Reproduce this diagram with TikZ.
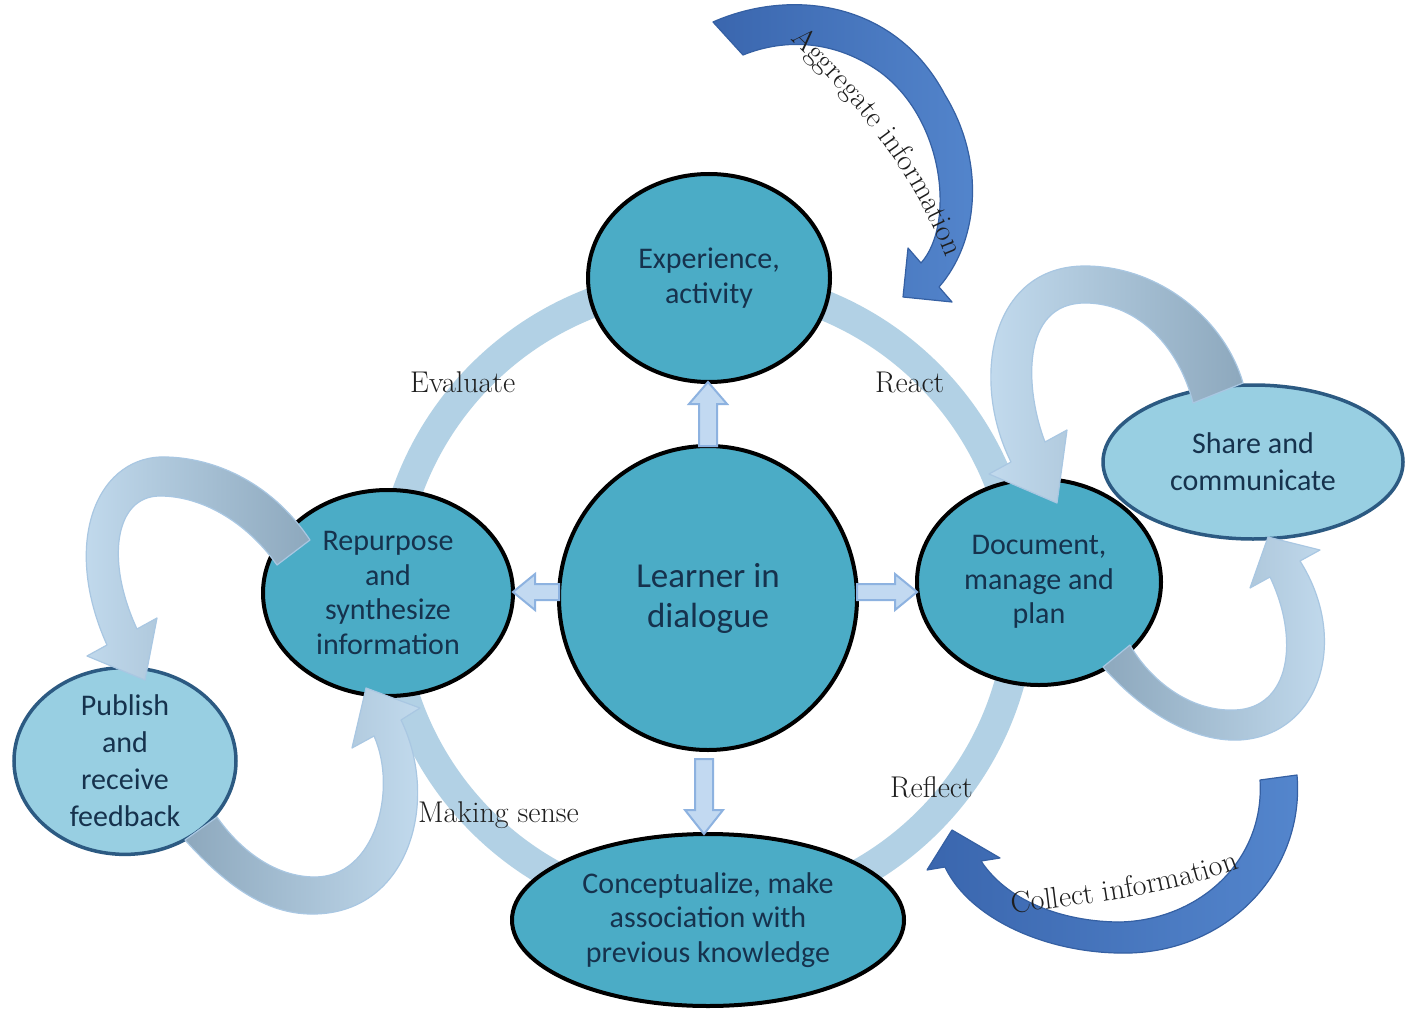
\documentclass[tikz,border=0pt]{standalone}
\usepackage{fontspec}
\newfontfamily\nodefont{Carlito}
\usetikzlibrary{shapes.geometric,decorations.text,calc}
\definecolor{nodefill}{HTML}{4BACC6}
\definecolor{subfill}{HTML}{98CFE2}
\definecolor{subline}{HTML}{2C5A82}
\definecolor{nodetext}{HTML}{16324D}
\definecolor{ringcol}{HTML}{B2D1E5}
\definecolor{barfill}{HTML}{C2D9F1}
\definecolor{barline}{HTML}{8DB2E0}
\definecolor{loopL}{HTML}{C6DEF1}
\definecolor{loopD}{HTML}{8DA8BD}
\definecolor{loopline}{HTML}{A9C7E2}
\definecolor{darkA}{HTML}{3A66AE}
\definecolor{darkB}{HTML}{5486CD}
\definecolor{darkline}{HTML}{3560A3}
\definecolor{lbltext}{HTML}{1E1E1E}
\newcommand\lblfont{\fontsize{30}{32}\selectfont}
\begin{document}
\begin{tikzpicture}[x=1pt,y=-1pt,
  mainnode/.style={ellipse, draw=black, line width=4pt, fill=nodefill, inner sep=0pt, outer sep=0pt,
    text=nodetext, align=center, font=\nodefont\fontsize{30}{34.5}\selectfont},
  subnode/.style={ellipse, draw=subline, line width=3.5pt, fill=subfill, inner sep=0pt, outer sep=0pt,
    text=nodetext, align=center, font=\nodefont\fontsize{30}{37}\selectfont},
  ringline/.style={draw=ringcol, line width=30pt},
  bar/.style={fill=barfill, draw=barline, line width=2pt, line join=miter},
  looparrow/.style={draw=loopline, line width=1.2pt, line join=round},
  darkarrow/.style={draw=darkline, line width=1.2pt, line join=round, left color=darkA, right color=darkB},
  lbl/.style={font=\lblfont, text=lbltext, anchor=base west, inner sep=0pt}
]
\useasboundingbox (0,0) rectangle (1405,1011);
\fill[white] (0,0) rectangle (1405,1011);

% cycle ring
\draw[ringline] (705,598) circle (316);

% nodes
\node[mainnode, minimum width=242pt, minimum height=208pt] (exp) at (709,278) {Experience,\\activity};
\node[mainnode, minimum width=298pt, minimum height=304pt, font=\nodefont\fontsize{35}{40}\selectfont] (learner) at (708,598) {Learner in\\dialogue};
\node[mainnode, minimum width=250pt, minimum height=206pt] (rep) at (388,593) {Repurpose\\and\\synthesize\\information};
\node[mainnode, minimum width=244pt, minimum height=206pt] (doc) at (1039,582) {Document,\\manage and\\plan};
\node[mainnode, minimum width=392pt, minimum height=172pt] (con) at (708,920) {Conceptualize, make\\association with\\previous knowledge};
\node[subnode, minimum width=300pt, minimum height=154pt] (share) at (1253,462) {Share and\\communicate};
\node[subnode, minimum width=222pt, minimum height=182pt] (pub) at (125,761) {Publish\\and\\receive\\feedback};

% block arrows from the learner
\coordinate (ua) at (learner.north);
\coordinate (ub) at (ua |- exp.south);
\draw[bar] ($(ua)+(-9,0)$) -- ($(ub)+(-9,22)$) -- ($(ub)+(-19,22)$) -- (ub) -- ($(ub)+(19,22)$) -- ($(ub)+(9,22)$) -- ($(ua)+(9,0)$) -- cycle;
\coordinate (la) at ($(learner.west)+(0,-6)$);
\coordinate (lb) at (rep.east |- la);
\draw[bar] ($(la)+(0,-8)$) -- ($(lb)+(22,-8)$) -- ($(lb)+(22,-18)$) -- (lb) -- ($(lb)+(22,18)$) -- ($(lb)+(22,8)$) -- ($(la)+(0,8)$) -- cycle;
\coordinate (ra) at ($(learner.east)+(0,-6)$);
\coordinate (rb) at (doc.west |- ra);
\draw[bar] ($(ra)+(0,-8)$) -- ($(rb)+(-22,-8)$) -- ($(rb)+(-22,-18)$) -- (rb) -- ($(rb)+(-22,18)$) -- ($(rb)+(-22,8)$) -- ($(ra)+(0,8)$) -- cycle;
\coordinate (da) at ($(learner.south)+(-4,9)$);
\coordinate (db) at (da |- con.north);
\draw[bar] ($(da)+(-9,0)$) -- ($(db)+(-9,-24)$) -- ($(db)+(-19,-24)$) -- (db) -- ($(db)+(19,-24)$) -- ($(db)+(9,-24)$) -- ($(da)+(9,0)$) -- cycle;

% loop arrow: share -> document (top)
\shadedraw[looparrow, left color=loopL, right color=loopD]
  (1193,403) -- (1243,383) .. controls (1225,320) and (1160,266) .. (1085,266)
  .. controls (990,266) and (970,380) .. (1011,462) -- (989,474) -- (1057,503) -- (1067,430) -- (1045,442)
  .. controls (1025,390) and (1020,303) .. (1085,303) .. controls (1140,303) and (1180,350) .. (1193,403) -- cycle;
% loop arrow: document -> share (bottom)
\shadedraw[looparrow, left color=loopD, right color=loopL]
  (1130,645) -- (1103,667) .. controls (1150,720) and (1200,742) .. (1240,740)
  .. controls (1320,735) and (1350,640) .. (1300,561) -- (1320,550) -- (1268,537) -- (1250,588) -- (1270,577)
  .. controls (1300,640) and (1290,708) .. (1235,710) .. controls (1190,712) and (1150,680) .. (1130,645) -- cycle;
% loop arrow: repurpose -> publish (top)
\shadedraw[looparrow, left color=loopL, right color=loopD]
  (277,565) -- (310,540) .. controls (270,480) and (210,456) .. (160,457)
  .. controls (95,460) and (62,545) .. (107,645) -- (87,656) -- (145,680) -- (157,618) -- (137,629)
  .. controls (105,560) and (115,496) .. (160,496) .. controls (200,496) and (245,520) .. (277,565) -- cycle;
% loop arrow: publish -> repurpose (bottom)
\shadedraw[looparrow, left color=loopD, right color=loopL]
  (217,817) -- (185,840) .. controls (230,890) and (270,915) .. (315,914)
  .. controls (410,912) and (440,800) .. (401,720) -- (420,708) -- (366,688) -- (352,748) -- (374,736)
  .. controls (398,790) and (375,877) .. (315,877) .. controls (275,877) and (240,850) .. (217,817) -- cycle;

% aggregate information arrow
\shadedraw[darkarrow]
  (743,55) -- (713,22) .. controls (790,-12) and (895,0) .. (945,95)
  .. controls (985,160) and (980,240) .. (939,287) -- (952,302) -- (903,297) -- (908,248) -- (921,263)
  .. controls (955,225) and (945,120) .. (880,72) .. controls (835,40) and (785,38) .. (743,55) -- cycle;
% collect information arrow
\shadedraw[darkarrow]
  (1260,780) -- (1297,775) .. controls (1305,870) and (1230,950) .. (1130,953)
  .. controls (1050,955) and (970,920) .. (945,867) -- (927,870) -- (952,830) -- (1000,858) -- (981,861)
  .. controls (1010,905) and (1070,922) .. (1120,922) .. controls (1200,920) and (1265,860) .. (1260,780) -- cycle;

% labels
\node[lbl] (lev) at (410,392) {Evaluate};
\node[lbl] (lre) at (875,392) {React};
\node[lbl] (lms) at (418,822) {Making sense};
\node[lbl] (lrf) at (890,797) {Reflect};
\path[decorate, decoration={text along path, text={|\lblfont|Aggregate information}, text align=center, text color=lbltext}]
  (782,32) .. controls (850,95) and (915,170) .. (950,268);
\path[decorate, decoration={text along path, text={|\lblfont|Collect information}, text align=center, text color=lbltext}]
  (995,915) .. controls (1080,905) and (1180,895) .. (1255,862);
\end{tikzpicture}
\end{document}
